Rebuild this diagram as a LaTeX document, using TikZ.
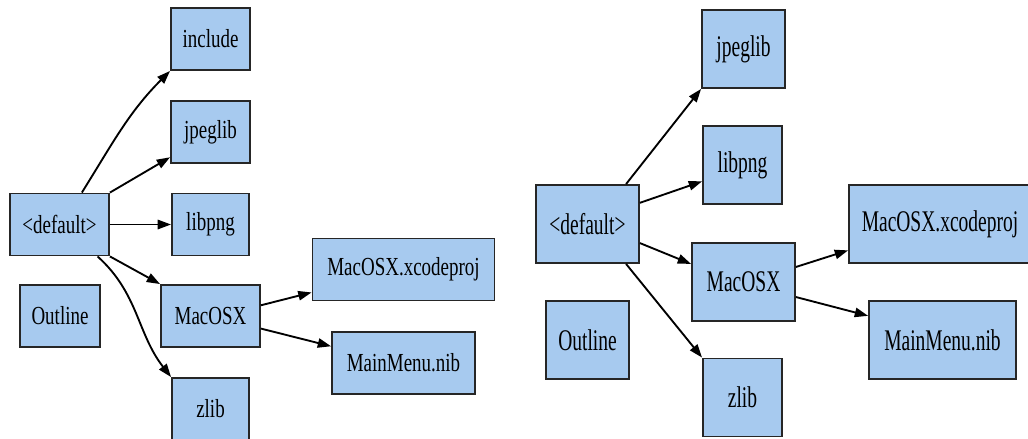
\documentclass[tikz,border=0pt]{standalone}
\usepackage{fontspec}
\newfontfamily\lowfont{Liberation Serif}[FakeStretch=0.73]
\newfontfamily\highfont{Liberation Serif}[FakeStretch=0.65]
\usetikzlibrary{arrows.meta}
\definecolor{pkgblue}{RGB}{167,202,239}
\definecolor{pkgline}{RGB}{38,38,38}

\begin{document}
\begin{tikzpicture}[x=0.75pt,y=-0.75pt]
        \tikzstyle{pkgbox}=[draw=pkgline,fill=pkgblue,line width=1.4pt,inner sep=0pt]
        \tikzstyle{lowbox}=[pkgbox,minimum height=46.5pt,font=\lowfont\fontsize{19.5}{22}\selectfont]
        \tikzstyle{highbox}=[pkgbox,minimum height=58.5pt,font=\highfont\fontsize{22.5}{25}\selectfont]
        \tikzstyle{dep}=[-{Triangle[length=10pt,width=7pt]},line width=1.4pt]
        \useasboundingbox (0,0) rectangle (1028,439);
        \clip (0,0) rectangle (1028,439);
        % first layout
        \node[lowbox,minimum width=59.25pt] (linclude) at (210.5,39) {include};
        \node[lowbox,minimum width=59.25pt] (ljpeglib) at (210.5,132) {jpeglib};
        \node[lowbox,minimum width=74.25pt] (ldefault) at (59.5,224.5) {<default>};
        \node[lowbox,minimum width=57.75pt] (llibpng) at (210.5,224.5) {libpng};
        \node[lowbox,minimum width=136.5pt] (lxcode) at (403.5,269.5) {MacOSX.xcodeproj};
        \node[lowbox,minimum width=60pt] (loutline) at (60,316) {Outline};
        \node[lowbox,minimum width=74.25pt] (lmacosx) at (210.5,316) {MacOSX};
        \node[lowbox,minimum width=107.25pt] (lmainmenu) at (403.5,363) {MainMenu.nib};
        \node[lowbox,minimum width=57.75pt] (lzlib) at (210.5,409) {zlib};
        \draw[dep] (ldefault.55) to[out=58,in=-135] (linclude.south west);
        \draw[dep] (ldefault.north east) -- (ljpeglib.212);
        \draw[dep] (ldefault) -- (llibpng);
        \draw[dep] (ldefault.south east) -- (lmacosx.north west);
        \draw[dep] (ldefault.-40) to[out=-42,in=128] (lzlib.north west);
        \draw[dep] (lmacosx.12) -- (lxcode.194);
        \draw[dep] (lmacosx.-14) -- (lmainmenu.167);
        % second layout
        \node[highbox,minimum width=62.25pt] (rjpeglib) at (743.5,49) {jpeglib};
        \node[highbox,minimum width=59.25pt] (rlibpng) at (742.5,165) {libpng};
        \node[highbox,minimum width=77.25pt] (rdefault) at (587.5,224) {<default>};
        \node[highbox,minimum width=136.5pt] (rxcode) at (940,224) {MacOSX.xcodeproj};
        \node[highbox,minimum width=77.25pt] (rmacosx) at (743.5,282) {MacOSX};
        \node[highbox,minimum width=62.25pt] (routline) at (587.5,340) {Outline};
        \node[highbox,minimum width=110.25pt] (rmainmenu) at (942.5,340) {MainMenu.nib};
        \node[highbox,minimum width=59.25pt] (rzlib) at (742.5,397.5) {zlib};
        \draw[dep] (rdefault.46) -- (rjpeglib.south west);
        \draw[dep] (rdefault.22) -- (rlibpng.202);
        \draw[dep] (rdefault.-20) -- (rmacosx.161);
        \draw[dep] (rdefault.-46) -- (rzlib.north west);
        \draw[dep] (rmacosx.16) -- (rxcode.196);
        \draw[dep] (rmacosx.-16) -- (rmainmenu.162);
      \end{tikzpicture}
\end{document}
